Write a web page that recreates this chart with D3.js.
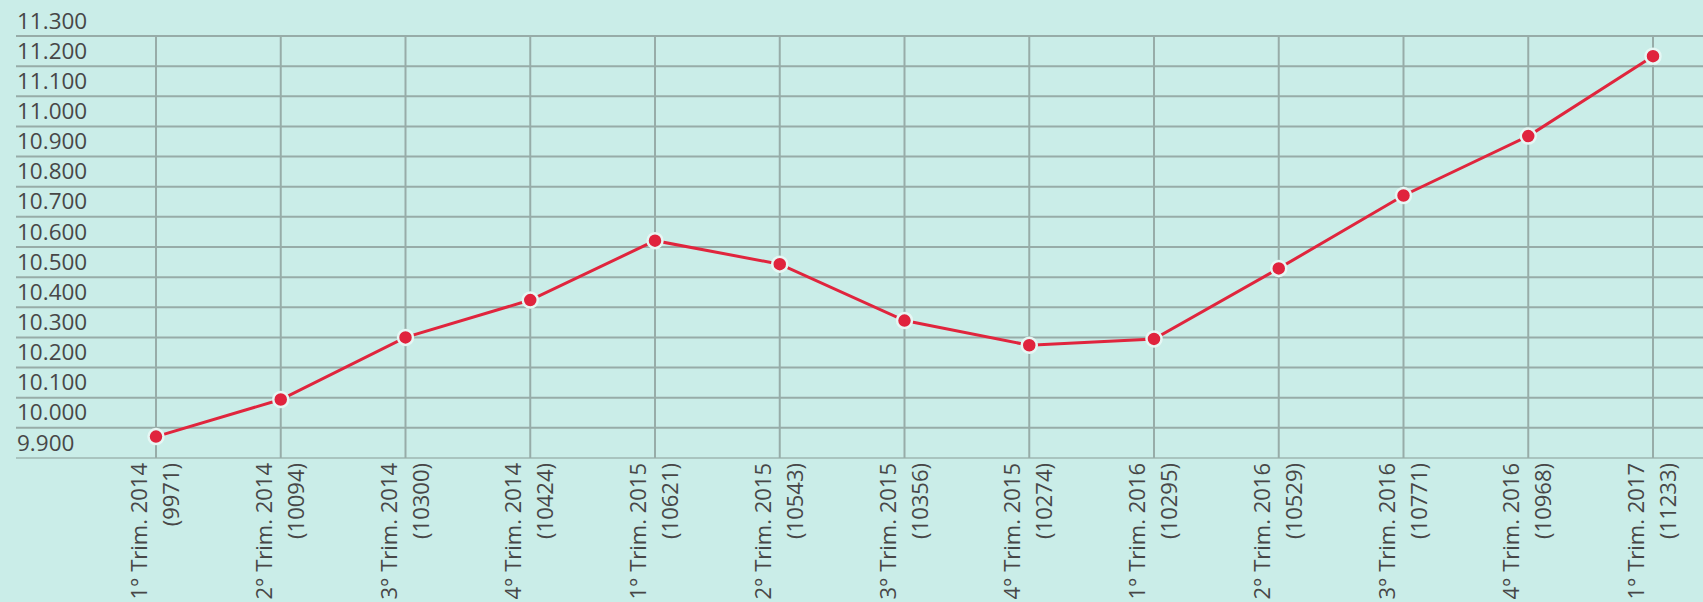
<!DOCTYPE html>
<html>
<head>
<meta charset="utf-8">
<script src="https://cdn.jsdelivr.net/npm/d3@7"></script>
<style>
  body { margin: 0; background: #caede8; }
  svg { display: block; font-family: "Open Sans", sans-serif; }
</style>
</head>
<body>
<svg id="chart"></svg>
<script>
// Quarters shown on the x axis, and the count printed under each one
const quarters = ['1° Trim. 2014', '2° Trim. 2014', '3° Trim. 2014', '4° Trim. 2014',
                  '1° Trim. 2015', '2° Trim. 2015', '3° Trim. 2015', '4° Trim. 2015',
                  '1° Trim. 2016', '2° Trim. 2016', '3° Trim. 2016', '4° Trim. 2016',
                  '1° Trim. 2017'];
const values = [9971, 10094, 10300, 10424, 10621, 10543, 10356, 10274, 10295, 10529, 10771, 10968, 11233];

// y axis tick values
const yTicks = [9900, 10000, 10100, 10200, 10300, 10400, 10500, 10600, 10700,
                10800, 10900, 11000, 11100, 11200, 11300];

const width = 1703, height = 602;
const gridLeft = 16;

// Italian style thousands separator
const locale = d3.formatLocale({ decimal: ',', thousands: '.', grouping: [3], currency: ['', ''] });
const fmt = locale.format(',');

const svg = d3.select('#chart')
    .attr('width', width)
    .attr('height', height);

const x = d3.scalePoint()
    .domain(quarters)
    .range([156, 1653]);

const y = d3.scaleLinear()
    .domain([9900, 11300])
    .range([458, 36]);

// Horizontal grid
svg.append('g')
    .selectAll('line')
    .data(yTicks)
    .enter().append('line')
        .attr('x1', gridLeft)
        .attr('x2', width)
        .attr('y1', d => y(d))
        .attr('y2', d => y(d))
        .attr('stroke', d => d === 9900 ? '#a9c4bf' : '#97aca8')
        .attr('stroke-width', 2);

// Vertical grid
svg.append('g')
    .selectAll('line')
    .data(quarters)
    .enter().append('line')
        .attr('x1', d => x(d))
        .attr('x2', d => x(d))
        .attr('y1', y(11300))
        .attr('y2', y(9900))
        .attr('stroke', '#97aca8')
        .attr('stroke-width', 2);

// y labels sit just above their grid line
svg.append('g')
    .selectAll('text')
    .data(yTicks)
    .enter().append('text')
        .attr('x', 17)
        .attr('y', d => y(d) - 7.5)
        .attr('fill', '#474747')
        .style('font-size', '22.5px')
        .text(d => fmt(d));

// x labels, rotated, two lines each
const xl = svg.append('g')
    .selectAll('text')
    .data(quarters)
    .enter().append('text')
        .attr('transform', d => 'translate(' + x(d) + ',463) rotate(-90)')
        .attr('text-anchor', 'end')
        .attr('fill', '#474747')
        .style('font-size', '22px');

xl.append('tspan')
    .attr('x', 0)
    .attr('y', -9)
    .text(d => d);

xl.append('tspan')
    .attr('x', 0)
    .attr('y', 23)
    .text((d, i) => '(' + values[i] + ')');

// The line
const line = d3.line()
    .x((d, i) => x(quarters[i]))
    .y(d => y(d));

svg.append('path')
    .datum(values)
    .attr('d', line)
    .attr('fill', 'none')
    .attr('stroke', '#e0253d')
    .attr('stroke-width', 3);

svg.append('g')
    .selectAll('circle')
    .data(values)
    .enter().append('circle')
        .attr('cx', (d, i) => x(quarters[i]))
        .attr('cy', d => y(d))
        .attr('r', 7.5)
        .attr('fill', '#e0233d')
        .attr('stroke', '#e6f7f4')
        .attr('stroke-width', 2.5);
</script>
</body>
</html>
